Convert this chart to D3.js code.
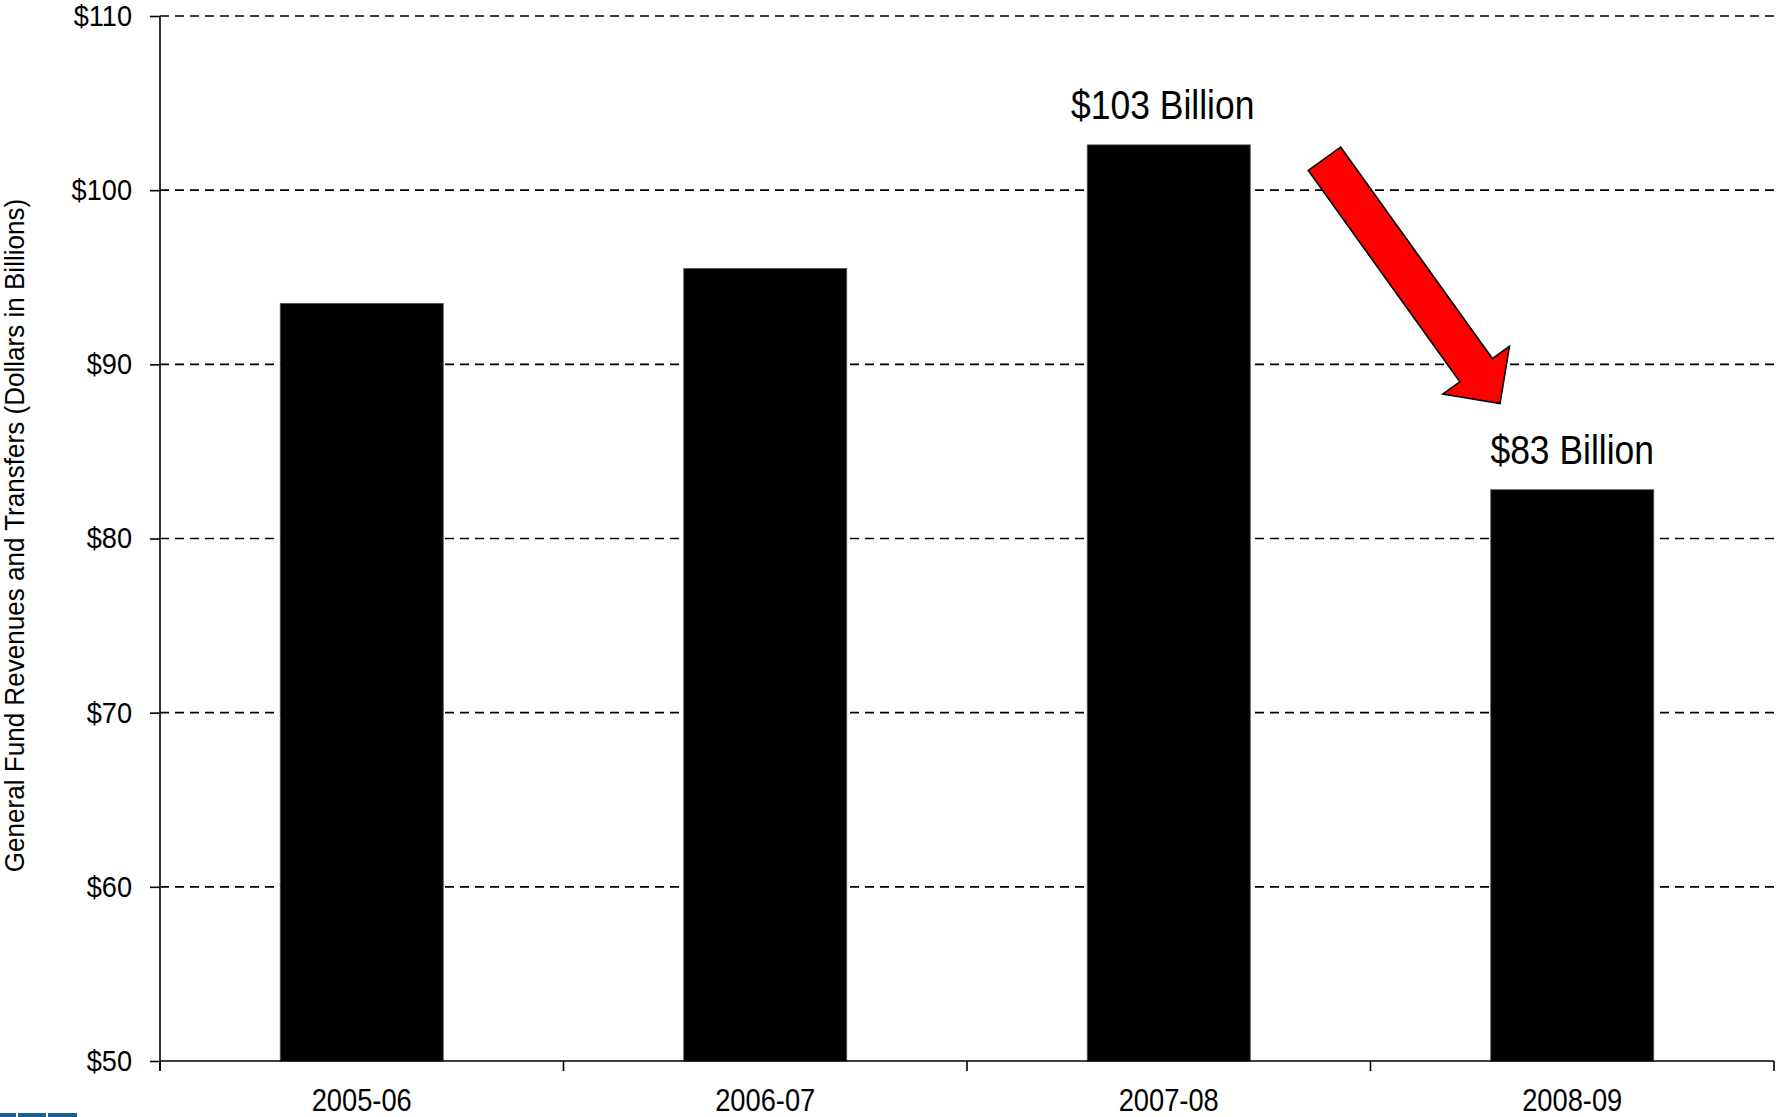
<!DOCTYPE html>
<html>
<head>
<meta charset="utf-8">
<script src="https://cdn.jsdelivr.net/npm/d3@7"></script>
<style>
  html, body { margin: 0; padding: 0; background: #fff; }
  svg { display: block; font-family: "Liberation Sans", Arial, sans-serif; }
</style>
</head>
<body>
<div id="chart"></div>
<script>
const WIDTH  = 1777
const HEIGHT = 1117

const years    = ['2005-06', '2006-07', '2007-08', '2008-09']
const revenues = [93.5, 95.5, 102.6, 82.8]
const yTicks   = [50, 60, 70, 80, 90, 100, 110]
const callouts = [
    { year: '2007-08', text: '$103 Billion', dx: -6 },
    { year: '2008-09', text: '$83 Billion', dx: 0 }
]

const margin = { top: 16, right: 3, bottom: 56, left: 160 }
const innerW = WIDTH - margin.left - margin.right
const innerH = HEIGHT - margin.top - margin.bottom

// the original uses a condensed grotesque; squeeze Liberation Sans to match
const squeeze = (sel, ratio) => sel.each(function () {
    const w = this.getComputedTextLength()
    d3.select(this)
        .attr('textLength', w * ratio)
        .attr('lengthAdjust', 'spacingAndGlyphs')
})

const svg = d3.select('#chart').append('svg')
    .attr('width', WIDTH)
    .attr('height', HEIGHT)

const g = svg.append('g')
    .attr('transform', `translate(${margin.left},${margin.top})`)

const x = d3.scaleBand()
    .domain(years)
    .range([0, innerW])
    .paddingInner(0.596)
    .paddingOuter(0.298)

const y = d3.scaleLinear()
    .domain([50, 110])
    .range([innerH, 0])

// dashed gridlines, behind the bars
g.append('g')
    .selectAll('line')
    .data(yTicks.filter(t => t > 50))
    .join('line')
    .attr('x1', 0)
    .attr('x2', innerW + 2)
    .attr('y1', d => y(d))
    .attr('y2', d => y(d))
    .attr('stroke', '#000')
    .attr('stroke-width', 1.6)
    .attr('stroke-dasharray', '9,6')

g.append('g')
    .selectAll('rect')
    .data(years)
    .join('rect')
    .attr('x', d => x(d))
    .attr('y', (d, i) => y(revenues[i]))
    .attr('width', x.bandwidth())
    .attr('height', (d, i) => y(50) - y(revenues[i]))
    .attr('fill', '#000')
    .attr('stroke', '#555')
    .attr('stroke-width', 0.8)

// y axis
const yAxis = g.append('g')
    .call(d3.axisLeft(y).tickValues(yTicks).tickFormat(d => '$' + d).tickSize(10).tickPadding(18))
yAxis.select('.domain').attr('d', `M0,0V${innerH + 10}`).attr('stroke-width', 1.6)
yAxis.selectAll('.tick line').attr('stroke-width', 1.6)
yAxis.selectAll('text')
    .attr('font-size', 29.5)
    .attr('font-family', '"Liberation Sans", Arial, sans-serif')
    .attr('fill', '#000')
    .call(squeeze, 0.92)

// x axis: ticks at category boundaries
const xAxis = g.append('g')
    .attr('transform', `translate(0,${innerH})`)
xAxis.append('line')
    .attr('x1', 0).attr('x2', innerW)
    .attr('stroke', '#000').attr('stroke-width', 1.6)
xAxis.selectAll('.bound')
    .data(years.map(d => x(d) - x.step() * x.paddingInner() / 2).concat([innerW]))
    .join('line')
    .attr('class', 'bound')
    .attr('x1', d => d).attr('x2', d => d)
    .attr('y1', 0).attr('y2', 10)
    .attr('stroke', '#000').attr('stroke-width', 1.6)
xAxis.selectAll('text')
    .data(years)
    .join('text')
    .attr('x', d => x(d) + x.bandwidth() / 2)
    .attr('y', 50)
    .attr('text-anchor', 'middle')
    .attr('font-size', 31)
    .text(d => d)
    .call(squeeze, 0.88)

// y axis title
svg.append('text')
    .attr('transform', `translate(24,${margin.top + innerH / 2 - 3}) rotate(-90)`)
    .attr('text-anchor', 'middle')
    .attr('font-size', 27)
    .text('General Fund Revenues and Transfers (Dollars in Billions)')
    .call(squeeze, 0.965)

// value callouts
g.selectAll('.callout')
    .data(callouts)
    .join('text')
    .attr('class', 'callout')
    .attr('x', d => x(d.year) + x.bandwidth() / 2 + d.dx)
    .attr('y', d => y(revenues[years.indexOf(d.year)]) - 26)
    .attr('text-anchor', 'middle')
    .attr('font-size', 41)
    .text(d => d.text)
    .call(squeeze, 0.865)

// red decline arrow, from beside 2007-08 down toward 2008-09
const tail = [x('2007-08') + x.bandwidth() / 2 + 0.386 * x.step(), y(101.8)]
const tip  = [x('2008-09') + x.bandwidth() / 2 - 0.179 * x.step(), y(87.75)]
const len  = Math.hypot(tip[0] - tail[0], tip[1] - tail[1])
const ang  = Math.atan2(tip[1] - tail[1], tip[0] - tail[0]) * 180 / Math.PI
const shaftHalf = 20, headHalf = 41, headLen = 41
const arrowPts = [
    [0, -shaftHalf], [len - headLen, -shaftHalf], [len - headLen, -headHalf], [len, 0],
    [len - headLen, headHalf], [len - headLen, shaftHalf], [0, shaftHalf]
]
g.append('path')
    .attr('transform', `translate(${tail[0]},${tail[1]}) rotate(${ang})`)
    .attr('d', d3.line()(arrowPts) + 'Z')
    .attr('fill', '#ff0000')
    .attr('stroke', '#000')
    .attr('stroke-width', 1.6)
    .attr('stroke-linejoin', 'miter')

// logo strip in the lower left corner
svg.append('g')
    .selectAll('rect')
    .data([[0, 16], [18, 46], [48, 77]])
    .join('rect')
    .attr('x', d => d[0])
    .attr('y', HEIGHT - 4)
    .attr('width', d => d[1] - d[0])
    .attr('height', 4)
    .attr('fill', '#1d5e8c')
</script>
</body>
</html>
